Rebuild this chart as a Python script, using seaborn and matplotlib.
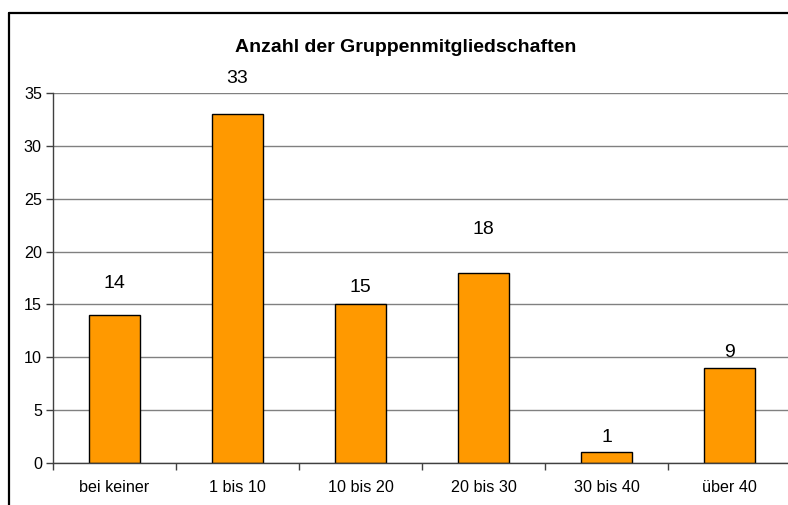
import seaborn as sns
import matplotlib.pyplot as plt
import pandas as pd
import numpy as np
from matplotlib.lines import Line2D

sns.set_style("white")
plt.rcParams['font.family'] = ['Liberation Sans', 'DejaVu Sans']
plt.rcParams['text.color'] = 'black'

# data
categories = ["bei keiner", "1 bis 10", "10 bis 20", "20 bis 30", "30 bis 40", "über 40"]
counts = [14, 33, 15, 18, 1, 9]
# distance (points) from bar top to the baseline of its value label, as placed in the original
label_offsets = [19.4, 22.3, 8.6, 28, 7.2, 7.9]

df = pd.DataFrame({"Gruppe": categories, "Anzahl": counts})

fig = plt.figure(figsize=(7.88, 5.05), dpi=100)
ax = fig.add_axes([53 / 788, 42 / 505, 738 / 788, 370 / 505])

sns.barplot(data=df, x="Gruppe", y="Anzahl", color="#FF9900", width=0.41,
            edgecolor="black", linewidth=1, saturation=1, ax=ax)

ax.set_xlim(-0.5, len(categories) - 0.5)
ax.set_ylim(0, 35)
ax.set_yticks(range(0, 36, 5))
ax.yaxis.grid(True, color="#808080", linewidth=1)
ax.set_axisbelow(True)

# ticks at category boundaries, labels centered
ax.set_xticks(np.arange(-0.5, len(categories) + 0.5, 1), minor=True)
ax.tick_params(axis="x", which="major", length=0, pad=12, labelsize=11.6, labelcolor="black")
ax.tick_params(axis="x", which="minor", length=5, width=1, color="#404040", direction="out")
ax.tick_params(axis="y", length=5, width=1, color="#404040", direction="out", pad=3,
               labelsize=11.6, labelcolor="black")
ax.tick_params(bottom=True, left=True, which="both")

for side in ["top", "right"]:
    ax.spines[side].set_visible(False)
for side in ["left", "bottom"]:
    ax.spines[side].set_color("#404040")
    ax.spines[side].set_linewidth(1)

ax.set_xlabel("")
ax.set_ylabel("")

for i, (v, off) in enumerate(zip(counts, label_offsets)):
    ax.annotate(str(v), (i, v), xytext=(0, off), textcoords="offset points",
                ha="center", va="baseline", fontsize=14, color="black")

fig.text(406 / 788, 1 - 52 / 505, "Anzahl der Gruppenmitgliedschaften",
         ha="center", va="baseline", fontsize=14, fontweight="bold", color="black")

# outer chart frame (top and left edges visible)
fig.add_artist(Line2D([8.5 / 788, 1], [1 - 12.5 / 505, 1 - 12.5 / 505],
                      transform=fig.transFigure, color="black", linewidth=1.6))
fig.add_artist(Line2D([8.5 / 788, 8.5 / 788], [0, 1 - 12.5 / 505],
                      transform=fig.transFigure, color="black", linewidth=1.6))

plt.savefig("out.png", dpi=100)
plt.close()
